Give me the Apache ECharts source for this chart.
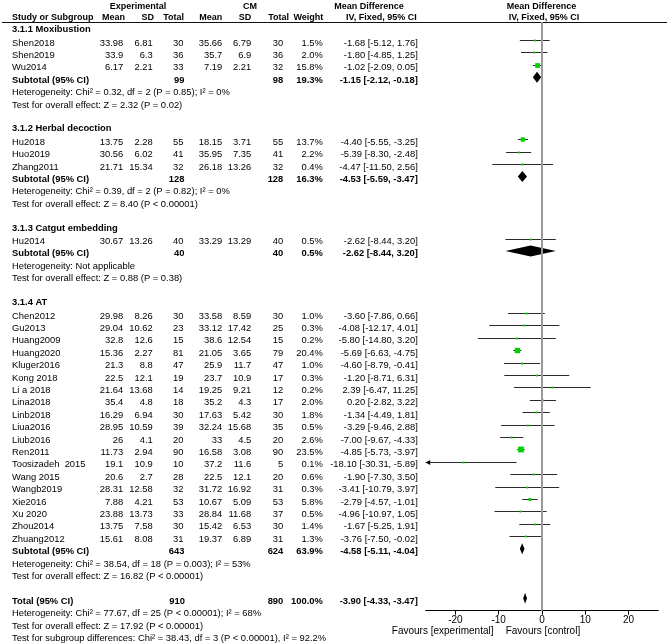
<!DOCTYPE html>
<html><head><meta charset="utf-8">
<script src="https://cdn.jsdelivr.net/npm/echarts@6/dist/echarts.min.js"></script>
<style>html,body{margin:0;padding:0;background:#fff}#c{width:669px;height:643px}</style>
</head><body><div id="c"></div>
<script>
// ---------- data ----------
const groupTitles = ['3.1.1 Moxibustion', '3.1.2 Herbal decoction', '3.1.3 Catgut embedding', '3.1.4 AT'];
const studyNames = ['Shen2018','Shen2019','Wu2014',
  'Hu2018','Huo2019','Zhang2011',
  'Hu2014',
  'Chen2012','Gu2013','Huang2009','Huang2020','Kluger2016','Kong 2018','Li a 2018','Lina2018','Linb2018','Liua2016','Liub2016','Ren2011','Toosizadeh  2015','Wang 2015','Wangb2019','Xie2016','Xu 2020','Zhou2014','Zhuang2012'];
const studyGroup = [0,0,0, 1,1,1, 2, 3,3,3,3,3,3,3,3,3,3,3,3,3,3,3,3,3,3,3];
const expMean = [33.98,33.9,6.17, 13.75,30.56,21.71, 30.67, 29.98,29.04,32.8,15.36,21.3,22.5,21.64,35.4,16.29,28.95,26,11.73,19.1,20.6,28.31,7.88,23.88,13.75,15.61];
const expSD   = [6.81,6.3,2.21, 2.28,6.02,15.34, 13.26, 8.26,10.62,12.6,2.27,8.8,12.1,13.68,4.8,6.94,10.59,4.1,2.94,10.9,2.7,12.58,4.21,13.73,7.58,8.08];
const expTotal= [30,36,33, 55,41,32, 40, 30,23,15,81,47,19,14,18,30,39,20,90,10,28,32,53,33,30,31];
const cmMean  = [35.66,35.7,7.19, 18.15,35.95,26.18, 33.29, 33.58,33.12,38.6,21.05,25.9,23.7,19.25,35.2,17.63,32.24,33,16.58,37.2,22.5,31.72,10.67,28.84,15.42,19.37];
const cmSD    = [6.79,6.9,2.21, 3.71,7.35,13.26, 13.29, 8.59,17.42,12.54,3.65,11.7,10.9,9.21,4.3,5.42,15.68,4.5,3.08,11.6,12.1,16.92,5.09,11.68,6.53,6.89];
const cmTotal = [30,36,32, 55,41,32, 40, 30,25,15,79,47,17,12,17,30,35,20,90,5,20,31,53,37,30,31];
const weights = [1.5,2.0,15.8, 13.7,2.2,0.4, 0.5, 1.0,0.3,0.2,20.4,1.0,0.3,0.2,2.0,1.8,0.5,2.6,23.5,0.1,0.6,0.3,5.8,0.5,1.4,1.3];
const mdEst   = [-1.68,-1.80,-1.02, -4.40,-5.39,-4.47, -2.62, -3.60,-4.08,-5.80,-5.69,-4.60,-1.20,2.39,0.20,-1.34,-3.29,-7.00,-4.85,-18.10,-1.90,-3.41,-2.79,-4.96,-1.67,-3.76];
const ciLow   = [-5.12,-4.85,-2.09, -5.55,-8.30,-11.50, -8.44, -7.86,-12.17,-14.80,-6.63,-8.79,-8.71,-6.47,-2.82,-4.49,-9.46,-9.67,-5.73,-30.31,-7.30,-10.79,-4.57,-10.97,-5.25,-7.50];
const ciHigh  = [1.76,1.25,0.05, -3.25,-2.48,2.56, 3.20, 0.66,4.01,3.20,-4.75,-0.41,6.31,11.25,3.22,1.81,2.88,-4.33,-3.97,-5.89,3.50,3.97,-1.01,1.05,1.91,-0.02];

const subExpTotal = [99, 128, 40, 643];
const subCmTotal  = [98, 128, 40, 624];
const subWeight   = [19.3, 16.3, 0.5, 63.9];
const subMd       = [-1.15, -4.53, -2.62, -4.58];
const subLow      = [-2.12, -5.59, -8.44, -5.11];
const subHigh     = [-0.18, -3.47, 3.20, -4.04];
const subHet = ['Heterogeneity: Chi\u00B2 = 0.32, df = 2 (P = 0.85); I\u00B2 = 0%',
                'Heterogeneity: Chi\u00B2 = 0.39, df = 2 (P = 0.82); I\u00B2 = 0%',
                'Heterogeneity: Not applicable',
                'Heterogeneity: Chi\u00B2 = 38.54, df = 18 (P = 0.003); I\u00B2 = 53%'];
const subTest = ['Test for overall effect: Z = 2.32 (P = 0.02)',
                 'Test for overall effect: Z = 8.40 (P < 0.00001)',
                 'Test for overall effect: Z = 0.88 (P = 0.38)',
                 'Test for overall effect: Z = 16.82 (P < 0.00001)'];

const totalExp = 910, totalCm = 890, totalWeight = 100.0;
const totalMd = -3.90, totalLow = -4.33, totalHigh = -3.47;
const totalNotes = ['Heterogeneity: Chi\u00B2 = 77.67, df = 25 (P < 0.00001); I\u00B2 = 68%',
                    'Test for overall effect: Z = 17.92 (P < 0.00001)',
                    'Test for subgroup differences: Chi\u00B2 = 38.43, df = 3 (P < 0.00001), I\u00B2 = 92.2%'];

const xTicks = [-20, -10, 0, 10, 20];
const xMin = -26.86, xMax = 26.86;
const favourLeft = 'Favours [experimental]';
const favourRight = 'Favours [control]';

// ---------- layout ----------
const FF = '"Liberation Sans", Arial, sans-serif';
const FS = 9.4;
const HFS = 9;
const TEXT_DY = 3;
const colX = { name: 12, eMean: 123.3, eSD: 152.7, eN: 183.5, cMean: 222.3, cSD: 251.3, cN: 283.3, w: 322.8, ci: 417.8 };

// build rows
const rows = [];
const marks = [];
let r = 0;
for (let g = 0; g < groupTitles.length; g++) {
  rows.push({ r: r, kind: 'heading', text: groupTitles[g] }); r++;
  for (let s = 0; s < studyNames.length; s++) {
    if (studyGroup[s] !== g) continue;
    rows.push({ r: r, kind: 'study', s: s });
    marks.push([mdEst[s], r, ciLow[s], ciHigh[s], weights[s], 0]);
    r++;
  }
  rows.push({ r: r, kind: 'sub', g: g });
  marks.push([subMd[g], r, subLow[g], subHigh[g], subWeight[g], 1]);
  r++;
  rows.push({ r: r, kind: 'note', text: subHet[g] }); r++;
  rows.push({ r: r, kind: 'note', text: subTest[g] }); r++;
  r++;
}
rows.push({ r: r, kind: 'total' });
marks.push([totalMd, r, totalLow, totalHigh, totalWeight, 1]);
r++;
totalNotes.forEach(function (t) { rows.push({ r: r, kind: 'note', text: t }); r++; });

function ciText(m, l, h) { return m.toFixed(2) + ' [' + l.toFixed(2) + ', ' + h.toFixed(2) + ']'; }

function txt(text, x, y, align, bold) {
  return { type: 'text', style: { text: text, x: x, y: y, align: align, verticalAlign: 'middle',
    textAlign: align, textVerticalAlign: 'middle',
    font: (bold ? 'bold ' : '') + FS + 'px ' + FF, fill: '#000' } };
}

function tableItem(params, api) {
  const row = rows[params.dataIndex];
  const y = api.coord([0, row.r])[1] + TEXT_DY;
  const c = [];
  if (row.kind === 'heading') {
    c.push(txt(row.text, colX.name, y - 1, 'left', true));
  } else if (row.kind === 'note') {
    c.push(txt(row.text, colX.name, y, 'left', false));
  } else if (row.kind === 'study') {
    const s = row.s;
    c.push(txt(studyNames[s], colX.name, y, 'left', false));
    c.push(txt(String(expMean[s]), colX.eMean, y, 'right', false));
    c.push(txt(String(expSD[s]), colX.eSD, y, 'right', false));
    c.push(txt(String(expTotal[s]), colX.eN, y, 'right', false));
    c.push(txt(String(cmMean[s]), colX.cMean, y, 'right', false));
    c.push(txt(String(cmSD[s]), colX.cSD, y, 'right', false));
    c.push(txt(String(cmTotal[s]), colX.cN, y, 'right', false));
    c.push(txt(weights[s].toFixed(1) + '%', colX.w, y, 'right', false));
    c.push(txt(ciText(mdEst[s], ciLow[s], ciHigh[s]), colX.ci, y, 'right', false));
  } else if (row.kind === 'sub') {
    const g = row.g;
    c.push(txt('Subtotal (95% CI)', colX.name, y, 'left', true));
    c.push(txt(String(subExpTotal[g]), colX.eN + 1, y, 'right', true));
    c.push(txt(String(subCmTotal[g]), colX.cN, y, 'right', true));
    c.push(txt(subWeight[g].toFixed(1) + '%', colX.w, y, 'right', true));
    c.push(txt(ciText(subMd[g], subLow[g], subHigh[g]), colX.ci, y, 'right', true));
  } else if (row.kind === 'total') {
    c.push(txt('Total (95% CI)', colX.name, y, 'left', true));
    c.push(txt(String(totalExp), colX.eN + 1.5, y, 'right', true));
    c.push(txt(String(totalCm), colX.cN, y, 'right', true));
    c.push(txt(totalWeight.toFixed(1) + '%', colX.w, y, 'right', true));
    c.push(txt(ciText(totalMd, totalLow, totalHigh), colX.ci, y, 'right', true));
  }
  return { type: 'group', children: c };
}

function forestItem(params, api) {
  const md = api.value(0), row = api.value(1), lo = api.value(2), hi = api.value(3), w = api.value(4), kind = api.value(5);
  const p = api.coord([md, row]);
  const cx = p[0], yc = p[1];
  const c = [];
  if (kind === 0) {
    const yl = Math.round(yc) + 0.5;
    const xl = api.coord([Math.max(lo, xMin), row])[0];
    const xh = api.coord([Math.min(hi, xMax), row])[0];
    c.push({ type: 'line', shape: { x1: xl, y1: yl, x2: xh, y2: yl }, style: { stroke: '#2a2a2a', lineWidth: 1 } });
    if (lo < xMin) {
      c.push({ type: 'polygon', shape: { points: [[xl, yl], [xl + 4.5, yl - 2.5], [xl + 4.5, yl + 2.5]] }, style: { fill: '#000' } });
    }
    if (hi > xMax) {
      c.push({ type: 'polygon', shape: { points: [[xh, yl], [xh - 4.5, yl - 2.5], [xh - 4.5, yl + 2.5]] }, style: { fill: '#000' } });
    }
    const sz = Math.max(2, 1.2 * Math.sqrt(w));
    c.push({ type: 'rect', shape: { x: cx - sz / 2, y: yl - sz / 2, width: sz, height: sz }, style: { fill: '#00d200' } });
  } else {
    const xl = api.coord([lo, row])[0];
    const xh = api.coord([hi, row])[0];
    const hh = 5.5;
    c.push({ type: 'polygon', shape: { points: [[xl, yc], [cx, yc - hh], [xh, yc], [cx, yc + hh]] }, style: { fill: '#000' } });
  }
  return { type: 'group', children: c };
}

const chart = echarts.init(document.getElementById('c'), null, { renderer: 'canvas' });

const headerFont = 'bold ' + HFS + 'px ' + FF;
function htxt(text, x, y, align) {
  return { type: 'text', style: { text: text, x: x, y: y, textAlign: align, textVerticalAlign: 'middle', font: headerFont, fill: '#000' } };
}
const H1 = 6.3, H2 = 17.2;

chart.setOption({
  animation: false,
  backgroundColor: '#fff',
  grid: { left: 425.7, right: 10.7, top: 22, bottom: 32.3, containLabel: false },
  xAxis: {
    type: 'value', min: xMin, max: xMax,
    axisLine: { show: true, onZero: false, lineStyle: { color: '#000', width: 1 } },
    axisTick: { show: true, length: 4, customValues: xTicks, lineStyle: { color: '#000' } },
    axisLabel: { customValues: xTicks, margin: 5, fontSize: FS + 0.6, color: '#000', fontFamily: FF },
    splitLine: { show: false }
  },
  yAxis: { type: 'value', min: -0.451, max: 47.0, inverse: true, show: false },
  graphic: [
    htxt('Experimental', 138, H1, 'center'),
    htxt('CM', 250, H1, 'center'),
    htxt('Mean Difference', 369, H1, 'center'),
    htxt('Mean Difference', 541.5, H1, 'center'),
    htxt('Study or Subgroup', 12, H2, 'left'),
    htxt('Mean', 125, H2, 'right'),
    htxt('SD', 154, H2, 'right'),
    htxt('Total', 184, H2, 'right'),
    htxt('Mean', 222.3, H2, 'right'),
    htxt('SD', 251.3, H2, 'right'),
    htxt('Total', 289, H2, 'right'),
    htxt('Weight', 323.3, H2, 'right'),
    htxt('IV, Fixed, 95% CI', 381.3, H2, 'center'),
    htxt('IV, Fixed, 95% CI', 544, H2, 'center'),
    { type: 'line', shape: { x1: 2, y1: 22.5, x2: 667, y2: 22.5 }, style: { stroke: '#111', lineWidth: 1.2 } },
    { type: 'text', style: { text: favourLeft, x: 493.5, y: 631, textAlign: 'right', textVerticalAlign: 'middle', font: (FS + 0.6) + 'px ' + FF, fill: '#000' } },
    { type: 'text', style: { text: favourRight, x: 505.7, y: 631, textAlign: 'left', textVerticalAlign: 'middle', font: (FS + 0.6) + 'px ' + FF, fill: '#000' } }
  ],
  series: [
    {
      type: 'custom', name: 'forest', clip: false, z: 3,
      data: marks,
      renderItem: forestItem,
      markLine: {
        silent: true, symbol: 'none', animation: false,
        label: { show: false },
        lineStyle: { color: '#9a9a9a', width: 2, type: 'solid' },
        data: [{ xAxis: 0 }]
      }
    },
    {
      type: 'custom', name: 'table', clip: false, silent: true,
      data: rows.map(function (row) { return [0, row.r]; }),
      renderItem: tableItem
    }
  ]
});
</script>
</body></html>
